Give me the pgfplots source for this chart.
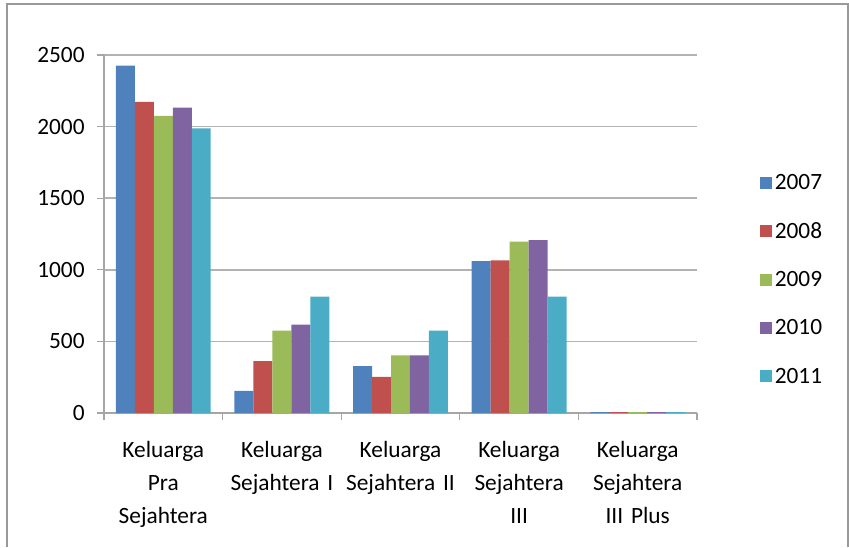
\documentclass[border=0pt]{standalone}
\usepackage{pgfplots}
\pgfplotsset{compat=1.18}
\usepackage{fontspec}
\setmainfont{Carlito}
\definecolor{c07}{HTML}{4F81BD}
\definecolor{c08}{HTML}{C0504D}
\definecolor{c09}{HTML}{9BBB59}
\definecolor{c10}{HTML}{8064A2}
\definecolor{c11}{HTML}{4BACC6}
\begin{document}
\begin{tikzpicture}
\useasboundingbox (0pt,0pt) rectangle (636.75pt,410.25pt);
\draw[gray!80, line width=1.2pt] (5.25pt,0pt) -- (5.25pt,407.25pt) -- (636pt,407.25pt) -- (636pt,0pt);
\begin{axis}[
  at={(78pt,100.5pt)}, anchor=south west,
  scale only axis,
  width=444.75pt, height=268.5pt,
  xmin=-0.5, xmax=4.5, ymin=0, ymax=2500,
  ybar=0pt, bar width=0.16,
  axis x line*=bottom, axis y line*=left,
  axis line style={gray!70, line width=0.8pt},
  xtick={0,1,2,3,4},
  xticklabels={Keluarga\\Pra\\Sejahtera, Keluarga\\Sejahtera I, Keluarga\\Sejahtera II, Keluarga\\Sejahtera\\III, Keluarga\\Sejahtera\\III Plus},
  major x tick style={draw=none},
  minor xtick={-0.5,0.5,1.5,2.5,3.5,4.5},
  minor x tick style={gray!70, line width=0.8pt},
  minor tick length=5pt,
  xticklabel style={align=center, text width=95pt, font=\fontsize{17.5}{24.75}\selectfont, yshift=-13pt},
  ytick={0,500,1000,1500,2000,2500},
  y tick style={gray!70, line width=0.8pt},
  major tick length=5pt,
  tick align=outside,
  yticklabel style={font=\fontsize{17.5}{21}\selectfont, xshift=-6pt},
  /pgf/number format/assume math mode=true,
  /pgf/number format/1000 sep={},
  ymajorgrids, grid style={gray!60, line width=1.2pt},
  legend style={at={(1.106,0.675)}, anchor=north west, draw=none, fill=none,
    font=\fontsize{17.5}{21}\selectfont, row sep=19.3pt, inner sep=0pt},
  legend cell align=left,
  legend image code/.code={\fill[#1] (0pt,-4.5pt) rectangle (9pt,4.5pt);},
]
\addplot[fill=c07, draw=none] coordinates {(0,2425) (1,155) (2,328) (3,1060) (4,6)};
\addplot[fill=c08, draw=none] coordinates {(0,2172) (1,362) (2,252) (3,1066) (4,6)};
\addplot[fill=c09, draw=none] coordinates {(0,2075) (1,575) (2,403) (3,1196) (4,6)};
\addplot[fill=c10, draw=none] coordinates {(0,2132) (1,617) (2,403) (3,1207) (4,6)};
\addplot[fill=c11, draw=none] coordinates {(0,1988) (1,813) (2,576) (3,812) (4,6)};
\legend{2007,2008,2009,2010,2011}
\end{axis}
\end{tikzpicture}
\end{document}
